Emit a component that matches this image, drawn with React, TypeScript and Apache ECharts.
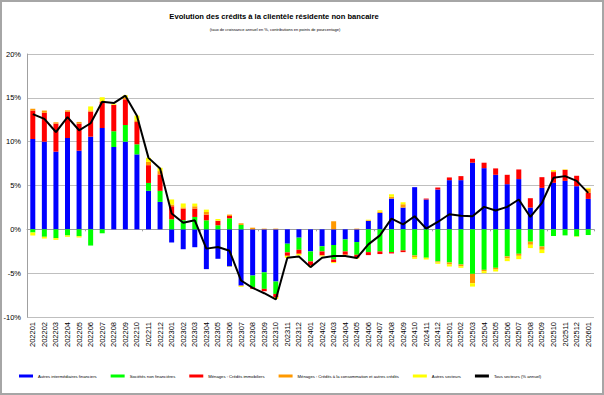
import React, { useEffect, useRef } from "react";
import * as echarts from "echarts";

const categories = [
  "202201","202202","202203","202204","202205","202206","202207","202208","202209","202210","202211","202212",
  "202301","202302","202303","202304","202305","202306","202307","202308","202309","202310","202311","202312",
  "202401","202402","202403","202404","202405","202406","202407","202408","202409","202410","202411","202412",
  "202501","202502","202503","202504","202505","202506","202507","202508","202509","202510","202511","202512",
  "202601",
];

const autresIntermediaires = [
  10.3,10.0,8.86,10.42,8.97,10.57,11.56,9.39,10.0,8.55,4.39,3.13,
  -1.5,-2.27,-2.04,-4.54,-3.36,-4.24,-6.41,-5.27,-4.9,-5.95,-1.64,-0.95,
  -2.52,-1.93,-1.79,-1.15,-1.45,0.95,1.87,3.51,2.48,4.81,3.4,4.54,
  5.61,5.61,7.6,6.98,6.22,5.15,5.73,2.48,4.73,5.31,5.53,4.92,
  3.47,
];
const societesNonFin = [
  -0.35,-0.85,-1.0,-0.7,-0.78,-1.85,-0.45,1.8,1.9,1.15,0.9,1.26,
  1.15,1.05,1.41,1.03,0.46,1.26,0.5,-1.33,-1.89,-1.42,-0.99,-1.38,
  -1.14,-0.59,-1.65,-1.37,-1.45,-2.6,-2.52,-2.6,-2.4,-2.98,-3.24,-3.66,
  -3.78,-4.01,-5.08,-4.62,-4.39,-3.09,-2.79,-1.41,-1.95,-0.76,-0.69,-0.8,
  -0.65,
];
const menagesImmo = [
  3.25,3.3,3.2,3.0,3.08,2.85,2.96,2.99,2.93,2.54,2.03,1.87,
  1.48,1.3,0.96,0.65,0.49,0.27,-0.03,-0.19,-0.27,-0.38,-0.39,-0.46,
  -0.46,-0.46,-0.3,-0.38,-0.34,-0.34,-0.3,-0.15,-0.2,0,0.11,0.23,
  0.31,0.46,0.45,0.62,0.73,1.07,1.1,1.07,1.22,1.22,1.26,1.19,
  0.69,
];
const menagesConso = [
  0.2,0.25,0.15,0.15,0.2,0.15,0.1,0.05,0.2,0.2,0.37,0.38,
  0.2,0.15,0.26,0.3,0.05,0.15,0.19,0.19,0.08,0.08,0,0,
  0,0,0.92,0,0.08,0.08,0.15,0.2,0.38,-0.19,0,-0.12,
  -0.23,-0.19,-1.07,-0.15,-0.2,-0.23,-0.23,-0.35,-0.38,0.1,0,0,
  0.46,
];
const autresSecteurs = [
  -0.35,-0.2,-0.2,-0.15,-0.15,0.45,0.45,0.1,0.26,0.53,0.47,0.38,
  0.58,0.45,0.31,0.27,0.18,-0.05,-0.12,0,0,-0.2,-0.22,-0.19,
  -0.15,-0.11,-0.11,-0.05,-0.1,0.07,0.16,0.29,0.23,-0.19,-0.2,-0.15,
  -0.23,-0.19,-0.38,-0.23,-0.22,-0.31,-0.38,-0.38,-0.38,0.13,0.05,-0.05,
  0.11,
];
const tousSecteurs = [
  13.15,12.6,11.1,12.8,11.3,12.1,14.55,14.4,15.25,12.95,8.15,6.95,
  1.8,0.75,1.03,-2.2,-2.02,-2.45,-5.84,-6.68,-7.29,-8.0,-3.25,-3.09,
  -4.31,-3.24,-3.05,-3.05,-3.28,-1.72,-0.69,1.22,0.57,1.49,0.08,0.84,
  1.72,1.56,1.49,2.56,2.14,2.56,3.4,1.41,3.02,5.88,6.07,5.53,
  4.16,
];

const seriesNames = [
  "Autres intermédiaires financiers",
  "Sociétés non financières",
  "Ménages : Crédits immobiliers",
  "Ménages : Crédits à la consommation et autres crédits",
  "Autres secteurs",
  "Tous secteurs (% annuel)",
];
const yTicks = { min: -10, max: 20, interval: 5 };

export default function App() {
  const ref = useRef<HTMLDivElement>(null);
  useEffect(() => {
    if (!ref.current) return;
    const chart = echarts.init(ref.current, null, { renderer: "svg" });
    const font = "Liberation Sans, Arial, sans-serif";
    const barData = [autresIntermediaires, societesNonFin, menagesImmo, menagesConso, autresSecteurs];
    const colors = ["#0000ff", "#00ff00", "#ff0000", "#ff9900", "#ffff00"];
    const bars = barData.map((d, i) => ({
      name: seriesNames[i],
      type: "bar",
      stack: "total",
      data: d,
      barWidth: 5,
      itemStyle: { color: colors[i] },
      xAxisIndex: 0,
    }));
    chart.setOption({
      animation: false,
      backgroundColor: "#ffffff",
      textStyle: { fontFamily: font },
      grid: { left: 27, right: 10, top: 54, bottom: 78, containLabel: false },
      graphic: [
        {
          type: "rect",
          shape: { x: 1, y: 1, width: 602, height: 393 },
          style: { fill: "none", stroke: "#a6a6a6", lineWidth: 2 },
          silent: true,
        },
        {
          type: "text",
          x: 274,
          y: 16,
          style: {
            text: "Evolution des crédits à la clientèle résidente non bancaire",
            fontSize: 7.6,
            fontWeight: "bold",
            fontFamily: font,
            fill: "#000",
            align: "center",
            verticalAlign: "middle",
          },
        },
        {
          type: "text",
          x: 275,
          y: 29,
          style: {
            text: "(taux de croissance annuel en %, contributions en points de pourcentage)",
            fontSize: 4,
            fontFamily: font,
            fill: "#000",
            align: "center",
            verticalAlign: "middle",
          },
        },
      ],
      legend: {
        left: 19,
        top: 374,
        padding: 0,
        itemWidth: 14,
        itemHeight: 3,
        itemGap: 14,
        icon: "rect",
        data: seriesNames,
        textStyle: { fontSize: 4.2, color: "#000", fontFamily: font },
      },
      xAxis: [
        {
          type: "category",
          data: categories,
          position: "bottom",
          axisLine: { onZero: true, lineStyle: { color: "#a0a0a0", width: 1 } },
          axisTick: { show: true, length: 2, lineStyle: { color: "#a0a0a0" } },
          axisLabel: { show: false },
          splitLine: { show: false },
        },
        {
          type: "category",
          data: categories,
          position: "bottom",
          axisLine: { show: false, onZero: false },
          axisTick: { show: false },
          axisLabel: { rotate: 90, interval: 0, fontSize: 7.5, color: "#000", margin: 5, fontFamily: font },
          splitLine: { show: false },
        },
      ],
      yAxis: {
        type: "value",
        min: yTicks.min,
        max: yTicks.max,
        interval: yTicks.interval,
        axisLine: { show: true, lineStyle: { color: "#a0a0a0" } },
        axisTick: { show: false },
        axisLabel: { formatter: "{value}%", fontSize: 7.5, color: "#000", margin: 6, fontFamily: font },
        splitLine: { lineStyle: { color: "#bfbfbf", width: 1 } },
      },
      series: [
        ...bars,
        {
          name: seriesNames[5],
          type: "line",
          data: tousSecteurs,
          symbol: "none",
          lineStyle: { color: "#000", width: 2 },
          itemStyle: { color: "#000" },
          z: 10,
          xAxisIndex: 0,
        },
      ],
    });
    return () => chart.dispose();
  }, []);
  return (
    <div
      ref={ref}
      style={{ position: "fixed", left: 0, top: 0, width: 604, height: 395, background: "#fff" }}
    />
  );
}
